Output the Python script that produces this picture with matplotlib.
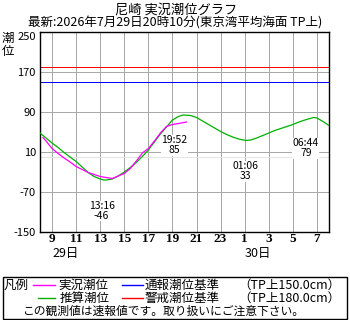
import matplotlib
matplotlib.use("Agg")
import matplotlib.pyplot as plt
from matplotlib.patches import Rectangle

plt.rcParams['font.family'] = ['Noto Sans CJK JP', 'DejaVu Sans']

# hours counted from 00:00 on the 29th (25.1 -> 01:06 on the 30th)
pred_hours = [8.0, 8.5, 9.0, 9.5, 10.0, 10.5, 11.0, 11.5, 12.0, 12.5, 13.0, 13.27, 13.5,
              14.0, 14.5, 15.0, 15.5, 16.0, 16.5, 17.0, 17.5, 18.0, 18.5, 19.0, 19.5,
              19.87, 20.5, 21.0, 21.5, 22.0, 22.5, 23.0, 23.5, 24.0, 24.5, 25.1, 25.5,
              26.0, 26.5, 27.0, 27.5, 28.0, 28.5, 29.0, 29.5, 30.0, 30.73, 31.0, 31.5, 32.0]
pred_level = [48, 38, 28, 19, 9, 0, -9, -20, -31, -39, -44, -46, -46,
              -44, -38, -30, -21, -11, 1, 14, 30, 46, 60, 74, 81,
              84, 83, 79, 72, 65, 58, 51, 45, 40, 36, 33, 34,
              38, 43, 48, 53, 57, 61, 65, 70, 74, 79, 78, 71, 63]

obs_hours = [8.25, 8.5, 9.0, 9.5, 10.0, 10.5, 11.0, 11.5, 12.0, 12.5, 13.0, 13.5, 14.0,
             14.5, 15.0, 15.5, 16.0, 16.5, 17.0, 17.5, 18.0, 18.5, 19.0, 19.5, 20.17]
obs_level = [39, 32, 17, 7, -2, -10, -19, -25, -31, -35, -39, -41, -43,
             -38, -33, -23, -8, 8, 17, 32, 48, 61, 65, 67, 70]

event_labels = ["13:16", "19:52", "01:06", "06:44"]
event_levels = [-46, 85, 33, 79]
event_shift = [-0.15, -0.7, 0.0, -0.65]   # label offset from the event time, hours

notify_level = 150.0
alert_level = 180.0

x_ticks = list(range(9, 32, 2))
x_ticklabels = [str(h % 24) for h in x_ticks]
y_ticks = [250, 170, 90, 10, -70, -150]


def to_hours(hhmm, after):
    h, m = hhmm.split(":")
    v = int(h) + int(m) / 60
    return v + 24 if v < after else v


PX = 0.72  # one pixel in points at 100 dpi
W, H = 350, 320
fig = plt.figure(figsize=(W / 100, H / 100), dpi=100)
ax = fig.add_axes([40 / W, 1 - 232 / H, 289 / W, 200 / H])
ax.set_xlim(8, 32)
ax.set_ylim(-150, 250)

# grid (1px lines snapped to the pixel grid)
for h in x_ticks:
    ax.axvline(h, color='#a8a8a8', lw=PX, zorder=1, snap=True)
for v in y_ticks[1:-1]:
    ax.axhline(v, color='#a8a8a8', lw=PX, zorder=1, snap=True)
ax.axhline(0, color='#e4e4e4', lw=PX, zorder=1, snap=True)

ax.axhline(alert_level, color='#ff0000', lw=PX, zorder=2, snap=True)
ax.axhline(notify_level, color='#0000ff', lw=PX, zorder=2, snap=True)

ax.plot(pred_hours, pred_level, color='#00b000', lw=0.9, zorder=3)
ax.plot(obs_hours, obs_level, color='#ff00ff', lw=0.9, zorder=4)

prev = 8
for lab, lev, dx in zip(event_labels, event_levels, event_shift):
    t = to_hours(lab, prev)
    prev = t
    ax.annotate(f"{lab}\n{lev}", (t + dx, lev), xytext=(0, -15), textcoords='offset points',
                ha='center', va='top', fontsize=7.5, linespacing=1.0, zorder=5,
                bbox=dict(facecolor='white', edgecolor='none', pad=0.2))

ax.set_xticks(x_ticks)
ax.set_xticklabels(x_ticklabels, family='Liberation Serif', fontweight='bold', fontsize=9.5)
ax.set_yticks(y_ticks)
ax.set_yticklabels([str(v) for v in y_ticks], fontsize=8)
ax.tick_params(axis='y', length=0, pad=3)
ax.tick_params(axis='x', length=0, pad=0.5)
ax.get_yticklabels()[0].set_va('top')
for s in ax.spines.values():
    s.set_linewidth(1.0)
    s.set_color('black')

# text around the plot
fig.text(176 / W, 1 - 11 / H, "尼崎 実況潮位グラフ", ha='center', va='center', fontsize=9.5)
fig.text(175 / W, 1 - 23 / H, "最新:2026年7月29日20時10分(東京湾平均海面 TP上)",
         ha='center', va='center', fontsize=9)
fig.text(8 / W, 1 - 45 / H, "潮\n位", ha='center', va='center', fontsize=9, linespacing=1.1)
fig.text(66 / W, 1 - 254 / H, "29日", ha='center', va='center', fontsize=9)
fig.text(258 / W, 1 - 254 / H, "30日", ha='center', va='center', fontsize=9)

# legend box
lg = fig.add_axes([0, 0, 1, 1])
lg.set_xlim(0, W)
lg.set_ylim(H, 0)
lg.axis('off')
lg.add_patch(Rectangle((3, 277), 344, 42, fill=False, edgecolor='black', lw=1.0))
fs = 9
lg.text(4, 285, "凡例", va='center', fontsize=fs)
lg.plot([33, 55], [285, 285], color='#ff00ff', lw=1.0)
lg.text(58, 285, "実況潮位", va='center', fontsize=fs)
lg.plot([122, 143], [285, 285], color='#0000ff', lw=1.0)
lg.text(145, 285, "通報潮位基準", va='center', fontsize=fs)
lg.text(238, 285, f"（TP上{notify_level:.1f}cm）", va='center', fontsize=fs)
lg.plot([38, 55], [298, 298], color='#00b000', lw=1.0)
lg.text(60, 298, "推算潮位", va='center', fontsize=fs)
lg.plot([122, 143], [298, 298], color='#ff0000', lw=1.0)
lg.text(145, 298, "警戒潮位基準", va='center', fontsize=fs)
lg.text(238, 298, f"（TP上{alert_level:.1f}cm）", va='center', fontsize=fs)
lg.text(23, 311, "この観測値は速報値です。取り扱いにご注意下さい。", va='center', fontsize=8.5)

fig.savefig("out.png", dpi=100)
